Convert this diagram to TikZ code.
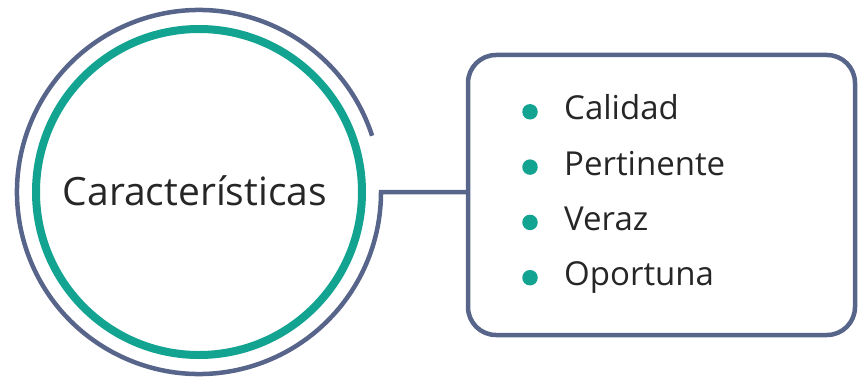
\documentclass[tikz,border=0pt]{standalone}
\usepackage{fontspec}
\setmainfont{Open Sans}
\usetikzlibrary{positioning, calc}
\definecolor{teal1}{RGB}{19,163,145}
\definecolor{slate}{RGB}{88,101,138}
\tikzset{%
  hub/.style={draw=teal1, line width=8pt, circle, minimum size=326pt, inner sep=0pt},
  ring/.style={draw=slate, line width=4.5pt},
  listbox/.style={draw=slate, line width=4.5pt, rounded corners=28pt, minimum width=387pt, minimum height=280pt, inner sep=0pt},
  dot/.style={circle, fill=teal1, minimum size=15.5pt, inner sep=0pt},
  item/.style={anchor=base west, inner sep=0pt, text=black!85, font=\fontsize{33}{40}\selectfont}
}

\begin{document}
\begin{tikzpicture}[x=1pt, y=1pt]
  \useasboundingbox (0,0) rectangle (858,381);

  \node[hub] (circ) at (199,189) {};
  \node[font=\fontsize{39}{46}\selectfont, text=black!85, anchor=base] (title) at (195,176) {Características};
  \node[listbox] (box) at (661.5,186) {};

  % outer ring, open at the top right
  \coordinate (ringend) at ($(circ.center)+(0:182)$);
  \draw[ring] ($(circ.center)+(18:182)$) arc[start angle=18, end angle=360, radius=182]
    -- (ringend -| box.west);

  \foreach \t [count=\i] in {Calidad, Pertinente, Veraz, Oportuna} {
    \node[dot] (d\i) at (530, 324.5-55.3*\i) {};
    \node[item] (t\i) at (564, 316.5-55.3*\i) {\t};
  }

\end{tikzpicture}
\end{document}
